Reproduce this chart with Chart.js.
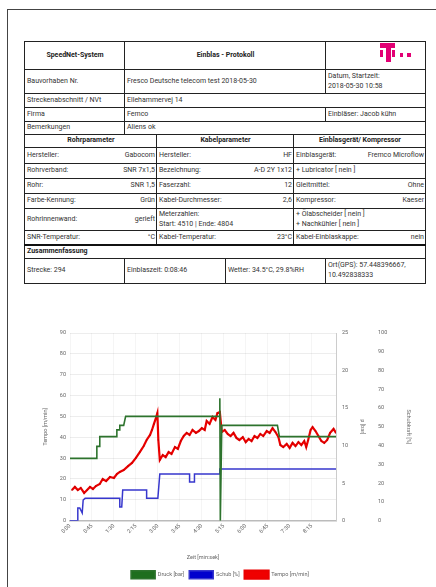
<!DOCTYPE html>
<html>
<head>
<meta charset="utf-8">
<script src="https://cdn.jsdelivr.net/npm/chart.js@4.4.1/dist/chart.umd.min.js"></script>
<style>
  html, body { margin: 0; padding: 0; background: #fff; width: 436px; height: 587px; overflow: hidden;
               font-family: Roboto, "Noto Sans", sans-serif; }
  #rahmen { position: absolute; left: 7px; top: 9px; width: 500px; height: 700px;
            border-left: 1.5px solid #444; border-top: 1.5px solid #444; }
  .z { position: absolute; box-sizing: border-box; border: 1px solid #222; font-size: 7px; color: #333;
       display: flex; align-items: center; padding: 0 1px 0 2px; line-height: 1.4; white-space: nowrap; overflow: hidden; }
  .z.b { font-weight: bold; justify-content: center; color: #222; }
  .z.bl { font-weight: bold; color: #222; }
  .z.lr { justify-content: space-between; }
  .dick { position: absolute; left: 24px; top: 244px; width: 402px; height: 2px; background: #111; }
  .logo { position: absolute; background: #e20074; }
  #chartBox { position: absolute; left: 20px; top: 320px; width: 400px; height: 270px; }
</style>
</head>
<body>
<div id="rahmen"></div>
<div id="tabelle"></div>
<div id="chartBox"><canvas id="diagramm"></canvas></div>

<script>
// ── Tabelle (Protokollkopf) ─────────────────
const tab = document.getElementById('tabelle');

function zelle(x1, y1, x2, y2, inhalt, cls) {
  const d = document.createElement('div');
  d.className = 'z' + (cls ? ' ' + cls : '');
  d.style.left = x1 + 'px';
  d.style.top = y1 + 'px';
  d.style.width = (x2 - x1 + 1) + 'px';
  d.style.height = (y2 - y1 + 1) + 'px';
  if (Array.isArray(inhalt)) {
    d.classList.add('lr');
    inhalt.forEach(t => { const s = document.createElement('span'); s.innerHTML = t; d.appendChild(s); });
  } else {
    d.innerHTML = inhalt;
  }
  tab.appendChild(d);
}

// oberer Block
zelle(24, 41, 124, 69, 'SpeedNet-System', 'b');
zelle(124, 41, 325, 69, 'Einblas - Protokoll', 'b');
zelle(325, 41, 425, 69, '');
zelle(24, 69, 124, 93, 'Bauvorhaben Nr.');
zelle(124, 69, 325, 93, 'Fresco Deutsche telecom test 2018-05-30');
zelle(325, 69, 425, 93, 'Datum, Startzeit:<br>2018-05-30 10:58');
zelle(24, 93, 124, 107, 'Streckenabschnitt / NVt');
zelle(124, 93, 425, 107, 'Ellehammervej 14');
zelle(24, 107, 124, 121, 'Firma');
zelle(124, 107, 325, 121, 'Femco');
zelle(325, 107, 425, 121, 'Einbläser: Jacob kühn');
zelle(24, 121, 124, 134, 'Bemerkungen');
zelle(124, 121, 425, 134, 'Aliens ok');

// Parameterblock
const sp = [24, 156, 293, 425];
const zeilen = [134, 147, 163, 178, 193, 208, 230, 245];
const parameter = [
  ['Rohrparameter', 'Kabelparameter', 'Einblasgerät/ Kompressor'],
  [['Hersteller:', 'Gabocom'], ['Hersteller:', 'HF'], ['Einblasgerät:', 'Fremco Microflow']],
  [['Rohrverband:', 'SNR 7x1,5'], ['Bezeichnung:', 'A-D 2Y 1x12'], '+ Lubricator [ nein ]'],
  [['Rohr:', 'SNR 1,5'], ['Faserzahl:', '12'], ['Gleitmittel:', 'Ohne']],
  [['Farbe-Kennung:', 'Grün'], ['Kabel-Durchmesser:', '2,6'], ['Kompressor:', 'Kaeser']],
  [['Rohrinnenwand:', 'gerieft'], 'Meterzahlen:<br>Start: 4510 | Ende: 4804', '+ Ölabscheider [ nein ]<br>+ Nachkühler [ nein ]'],
  [['SNR-Temperatur:', '°C'], ['Kabel-Temperatur:', '23°C'], ['Kabel-Einblaskappe:', 'nein']]
];
parameter.forEach((reihe, r) => {
  reihe.forEach((inhalt, c) => {
    zelle(sp[c], zeilen[r], sp[c + 1], zeilen[r + 1], inhalt, r === 0 ? 'b' : '');
  });
});

// Zusammenfassung
zelle(24, 245, 425, 258, 'Zusammenfassung', 'bl');
zelle(24, 258, 124, 283, 'Strecke: 294');
zelle(124, 258, 225, 283, 'Einblaszeit: 0:08:46');
zelle(225, 258, 325, 283, 'Wetter: 34.5°C, 29.8%RH');
zelle(325, 258, 425, 283, 'Ort(GPS): 57.448396667,<br>10.492838333');
const dick = document.createElement('div'); dick.className = 'dick'; tab.appendChild(dick);

// T-Logo
[[380, 43, 15, 5], [386, 43, 5, 19], [380, 50, 3, 7], [392, 50, 3, 7], [400, 53, 3, 4], [407, 53, 4, 4]]
  .forEach(([l, t, w, h]) => {
    const d = document.createElement('div');
    d.className = 'logo';
    Object.assign(d.style, { left: l + 'px', top: t + 'px', width: w + 'px', height: h + 'px' });
    tab.appendChild(d);
  });

// ── Diagrammdaten ───────────────────────────
const zeitTicks = ['0:00', '0:45', '1:30', '2:15', '3:00', '3:45', '4:30', '5:15', '6:00', '6:45', '7:30', '8:15', '9:00'];

// Druck [bar] (grün, rechte Achse 1)
const druckZeit = [0, 55, 55, 61, 61, 96, 96, 102, 102, 110, 114, 306, 307, 308, 309, 311, 425, 429, 545];
const druckWert = [8.3, 8.3, 9.9, 9.9, 11.2, 11.2, 12.1, 12.1, 12.7, 12.7, 13.9, 13.9, 16.3, 0, 0, 12.7, 12.7, 11.2, 11.2];

// Schubkraft [%] (blau, rechte Achse 2)
const schubZeit = [0, 16, 16, 20, 25, 27, 31, 102, 102, 106, 108, 157, 157, 180, 184, 245, 245, 255, 255, 307, 307, 545];
const schubWert = [0, 0, 6.8, 6.8, 4.1, 11.0, 11.9, 11.9, 7.3, 7.3, 16.4, 16.4, 11.9, 11.9, 24.9, 24.9, 20.6, 20.6, 24.9, 24.9, 27.5, 27.5];

// Tempo [m/min] (rot, linke Achse)
const tempoZeit = [4, 10, 16, 22, 29, 35, 41, 47, 53, 61, 67, 74, 82, 90, 96, 102, 110, 119, 127, 135,
  143, 151, 157, 164, 168, 172, 176, 179, 181, 184, 190, 196, 202, 208, 215, 221, 227, 233, 239, 245,
  251, 258, 264, 270, 276, 280, 286, 292, 298, 302, 307, 311, 317, 323, 329, 335, 341, 347, 354, 360,
  366, 372, 378, 384, 390, 396, 403, 409, 415, 421, 427, 431, 437, 444, 450, 456, 462, 468, 474, 480,
  484, 488, 493, 497, 503, 509, 515, 521, 527, 533, 540, 545];
const tempoWert = [14.7, 16.2, 14.7, 15.7, 13.3, 14.7, 16.2, 15.2, 16.6, 17.6, 20.0, 19.0, 21.0, 20.5, 22.4, 23.4, 24.3, 26.2, 27.7, 30.1,
  32.9, 35.8, 38.7, 41.1, 43.5, 46.4, 49.2, 51.6, 38.7, 29.1, 31.5, 30.5, 32.9, 32.0, 35.3, 34.4, 38.2, 40.6, 42.1, 41.1,
  43.5, 42.1, 43.0, 44.4, 43.5, 47.8, 46.4, 49.7, 48.3, 51.6, 52.1, 42.5, 43.5, 41.6, 40.6, 42.1, 39.7, 38.7, 40.1, 37.7,
  39.2, 38.2, 40.6, 39.7, 41.6, 40.6, 43.0, 42.1, 44.4, 42.5, 40.1, 36.3, 35.3, 36.8, 34.9, 37.3, 35.8, 37.7, 36.3, 38.2,
  35.3, 38.7, 43.5, 44.9, 43.0, 40.6, 38.2, 37.3, 38.7, 42.1, 44.0, 42.1];

const toXY = (xs, ys) => xs.map((x, i) => ({ x, y: ys[i] }));

// ── Diagramm ────────────────────────────────
const grau = '#666';
const klein = { size: 5.5, family: 'Roboto' };

new Chart(document.getElementById('diagramm'), {
  type: 'line',
  data: {
    datasets: [
      { label: 'Druck [bar]', data: toXY(druckZeit, druckWert), yAxisID: 'y1',
        borderColor: 'rgb(45,115,45)', backgroundColor: 'rgb(30,110,30)', borderWidth: 1.6, pointRadius: 0 },
      { label: 'Schub [%]', data: toXY(schubZeit, schubWert), yAxisID: 'y2',
        borderColor: 'rgb(55,55,205)', backgroundColor: 'rgb(0,0,205)', borderWidth: 1.5, pointRadius: 0 },
      { label: 'Tempo [m/min]', data: toXY(tempoZeit, tempoWert), yAxisID: 'y',
        borderColor: 'rgb(235,0,0)', backgroundColor: 'rgb(240,0,0)', borderWidth: 2.2,
        pointRadius: 0.8, pointBackgroundColor: 'rgb(190,0,0)', pointBorderWidth: 0 }
    ]
  },
  options: {
    responsive: true, maintainAspectRatio: false, animation: false,
    layout: { padding: { top: 13, bottom: 1.3 } },
    plugins: {
      legend: { position: 'bottom',
        labels: { boxWidth: 24, boxHeight: 8, padding: 5, color: grau, font: klein } },
      tooltip: { enabled: false }
    },
    scales: {
      x: {
        type: 'linear', min: 0, max: 545,
        afterFit: s => { s.height = 45; },
        afterBuildTicks: s => { s.ticks = s.ticks.filter(t => t.value % 45 === 0); },
        ticks: { stepSize: 45, minRotation: 45, maxRotation: 45, padding: 2, color: grau, font: klein,
                 callback: v => zeitTicks[Math.round(v / 45)] },
        grid: { color: 'rgba(0,0,0,0.04)', drawTicks: false },
        border: { color: '#bbb', width: 1.5 },
        title: { display: true, text: 'Zeit [min:sek]', color: grau, font: klein, padding: { top: 0, bottom: 5 } }
      },
      y: {
        position: 'left', min: 0, max: 90,
        afterFit: s => { s.width = 50; },
        ticks: { stepSize: 10, padding: 4, color: grau, font: klein },
        grid: { color: 'rgba(0,0,0,0.07)', drawTicks: false },
        border: { display: false },
        title: { display: true, text: 'Tempo [m/min]', color: grau, font: klein, padding: { top: 22 } }
      },
      y1: {
        position: 'right', min: 0, max: 25,
        afterFit: s => { s.width = 36; },
        ticks: { stepSize: 5, padding: 6, color: grau, font: klein },
        grid: { drawOnChartArea: false, drawTicks: false },
        border: { color: '#ccc' },
        title: { display: true, text: 'p [bar]', color: grau, font: klein, padding: { top: 6 } }
      },
      y2: {
        position: 'right', min: 0, max: 100,
        afterFit: s => { s.width = 48; },
        ticks: { stepSize: 10, padding: 6, color: grau, font: klein },
        grid: { drawOnChartArea: false, drawTicks: false },
        border: { display: false },
        title: { display: true, text: 'Schubkraft [%]', color: grau, font: klein, padding: { top: 8.6 } }
      }
    }
  }
});
</script>
</body>
</html>
